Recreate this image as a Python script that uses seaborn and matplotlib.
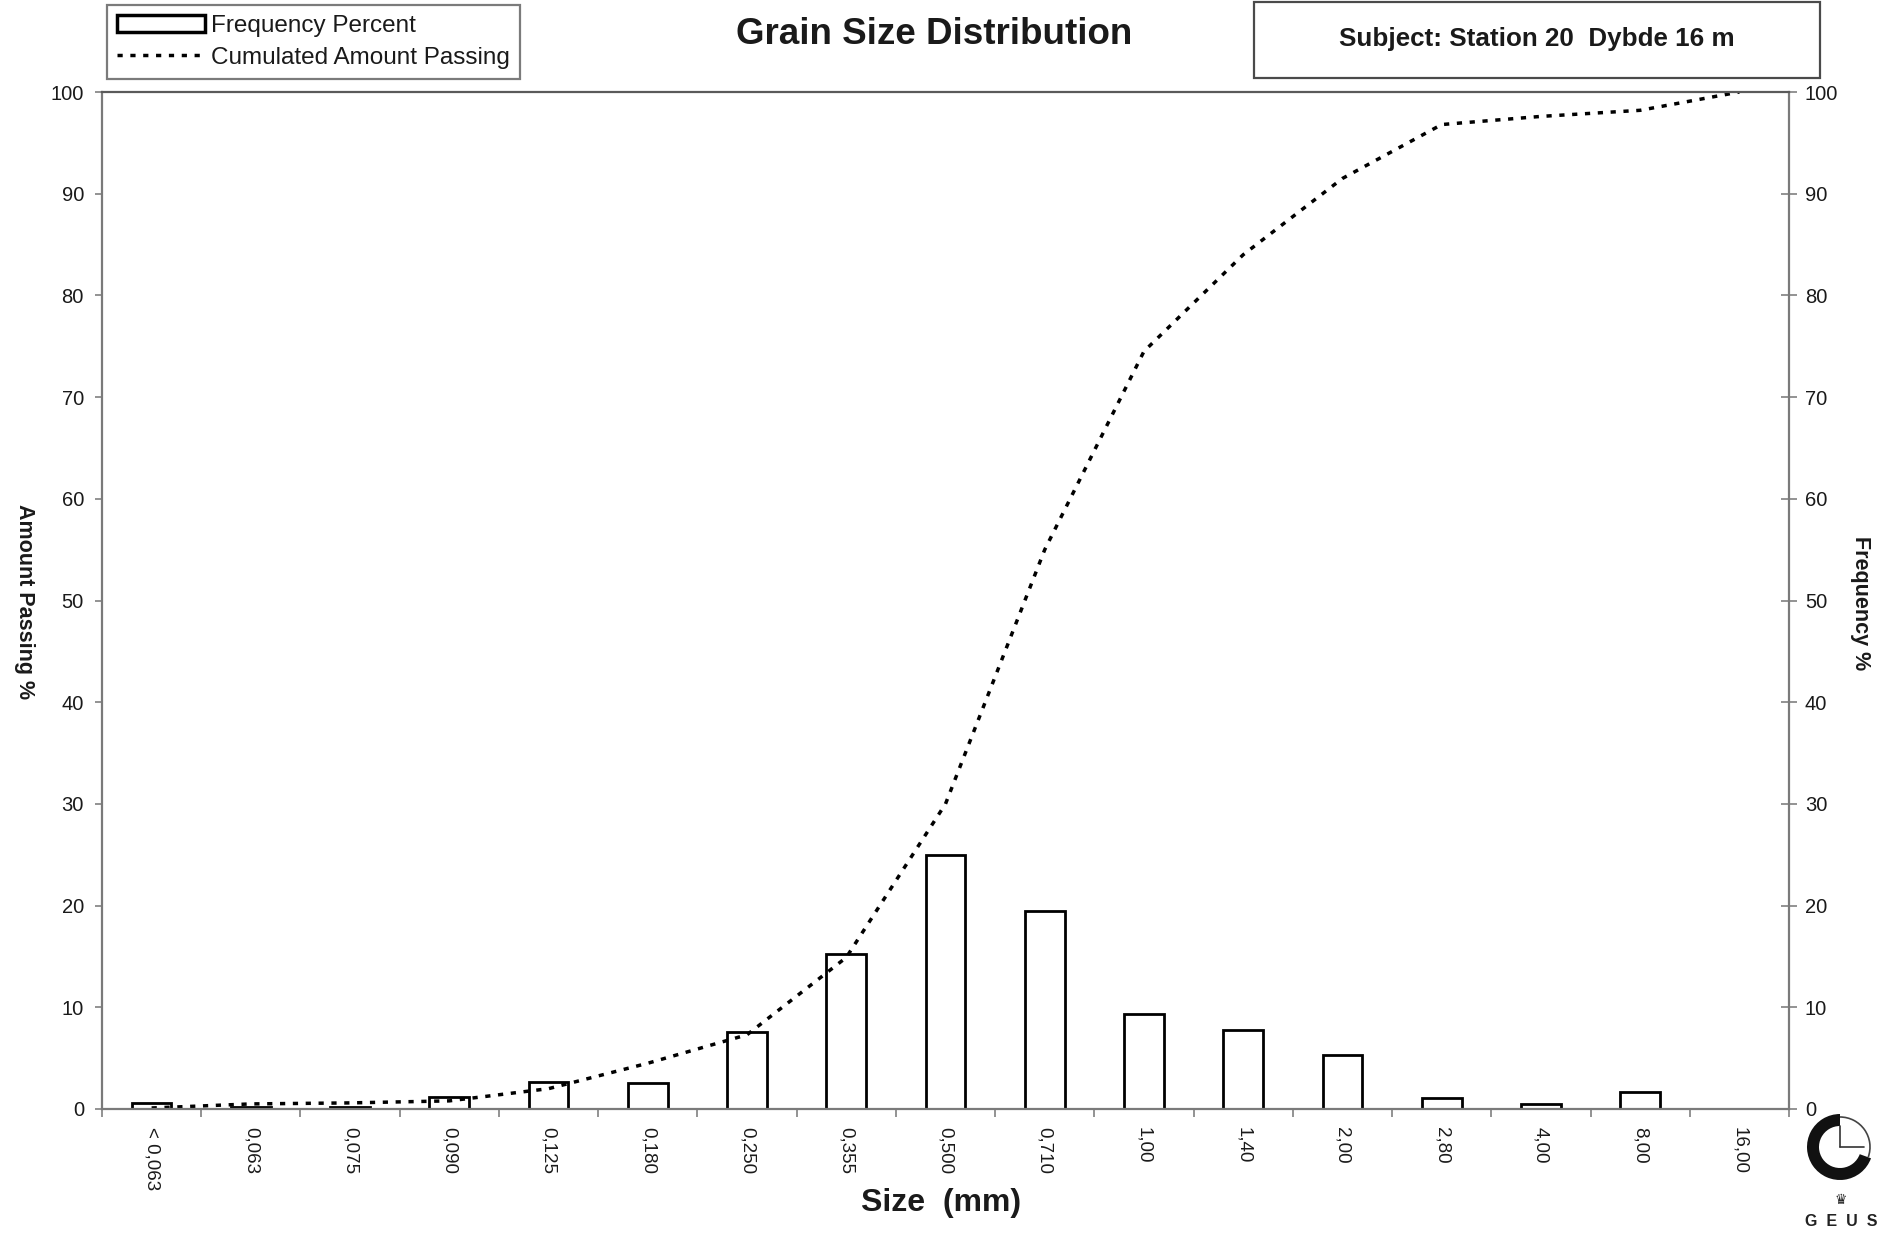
import numpy as np
import matplotlib
matplotlib.use("Agg")
import matplotlib.pyplot as plt
from matplotlib.patches import Patch, Rectangle, Wedge, Arc
from matplotlib.lines import Line2D
import seaborn as sns

# Sieve classes (mm) and measured fractions
size_labels = ["< 0,063", "0,063", "0,075", "0,090", "0,125", "0,180", "0,250",
               "0,355", "0,500", "0,710", "1,00", "1,40", "2,00", "2,80",
               "4,00", "8,00", "16,00"]
frequency_pct = [0.6, 0.15, 0.15, 1.2, 2.7, 2.55, 7.6, 15.2, 25.0, 19.5,
                 9.3, 7.8, 5.3, 1.05, 0.45, 1.7, 0.0]
cumulated_pct = [0.1, 0.5, 0.6, 0.8, 2.0, 4.5, 7.3, 14.9, 30.0, 55.0,
                 74.5, 84.0, 91.5, 96.8, 97.6, 98.2, 100.0]
y_ticks = list(range(0, 101, 10))

sns.set_style("white")
plt.rcParams["font.family"] = ["Liberation Sans", "DejaVu Sans"]
plt.rcParams["text.color"] = "#1a1a1a"

W, H = 1904, 1235
fig = plt.figure(figsize=(W / 100, H / 100), dpi=100)

ax = fig.add_axes([102 / W, 1 - 1109 / H, (1789 - 102) / W, (1109 - 92) / H])
ax2 = ax.twinx()

# Frequency bars on the right-hand axis
sns.barplot(x=size_labels, y=frequency_pct, ax=ax2, color="white",
            edgecolor="black", linewidth=2.0, width=0.4, saturation=1)

# Cumulative curve on the left-hand axis, drawn above the bars
ax.set_zorder(ax2.get_zorder() + 1)
ax.patch.set_visible(False)
dot_style = (0, (1.5, 2.2))
sns.lineplot(x=np.arange(len(size_labels)), y=cumulated_pct, ax=ax,
             color="black", linewidth=2.5, linestyle=dot_style)
for ln in ax.lines:
    ln.set_dash_capstyle("butt")

n = len(size_labels)
for a in (ax, ax2):
    a.set_ylim(0, 100)
    a.set_xlim(-0.5, n - 0.5)
    a.set_xlabel("")
    a.set_ylabel("")

# Category labels centred in each slot, tick marks on slot boundaries
ax.set_xticks(np.arange(n))
ax.set_xticklabels(size_labels, rotation=270, fontsize=13.5)
ax.set_xticks(np.arange(-0.5, n, 1.0), minor=True)
ax.tick_params(axis="x", which="major", length=0, pad=13, colors="#1a1a1a")
ax.tick_params(axis="x", which="minor", length=6, width=1.2, color="#808080",
               direction="out", bottom=True)

ax.set_yticks(y_ticks)
ax.tick_params(axis="y", which="major", length=5, width=1.2, color="#808080",
               labelsize=14.5, labelcolor="#1a1a1a", direction="out", left=True, pad=8)
ax2.set_yticks(y_ticks)
ax2.tick_params(axis="y", which="major", length=11, width=1.2, color="#808080",
                labelsize=14.5, labelcolor="#1a1a1a", direction="inout", right=True, pad=6)

for s in ax2.spines.values():
    s.set_visible(False)
for name in ("left", "right", "bottom", "top"):
    ax.spines[name].set_visible(True)
    ax.spines[name].set_color("#7a7a7a")
    ax.spines[name].set_linewidth(1.6)
ax.spines["top"].set_color("#5a5a5a")

# Axis titles
fig.text(941 / W, 1 - 1203 / H, "Size  (mm)", ha="center", va="center",
         fontsize=23, fontweight="bold")
fig.text(24 / W, 1 - 602 / H, "Amount Passing %", ha="center", va="center",
         rotation=270, fontsize=15.5, fontweight="bold")
fig.text(1860 / W, 1 - 603 / H, "Frequency %", ha="center", va="center",
         rotation=270, fontsize=15.5, fontweight="bold")

# Title
fig.text(934 / W, 1 - 34 / H, "Grain Size Distribution", ha="center", va="center",
         fontsize=26.5, fontweight="bold")

# Subject box
fig.patches.append(Rectangle((1254 / W, 1 - 78 / H), (1820 - 1254) / W, 76 / H,
                             transform=fig.transFigure, facecolor="white",
                             edgecolor="#4a4a4a", linewidth=1.6))
fig.text(1537 / W, 1 - 39 / H, "Subject: Station 20  Dybde 16 m", ha="center",
         va="center", fontsize=18.7, fontweight="bold")

# Legend
handles = [Patch(facecolor="white", edgecolor="black", linewidth=2.5),
           Line2D([0], [0], color="black", linewidth=2.5, linestyle=dot_style,
                  dash_capstyle="butt")]
leg = fig.legend(handles, ["Frequency Percent", "Cumulated Amount Passing"],
                 loc="upper left", bbox_to_anchor=(107 / W, 1 - 5 / H),
                 bbox_transform=fig.transFigure, fontsize=17.5, frameon=True,
                 fancybox=False, borderaxespad=0, borderpad=0.42,
                 handlelength=3.6, handletextpad=0.25, labelspacing=0.4)
leg.get_frame().set_edgecolor("#5a5a5a")
leg.get_frame().set_linewidth(1.6)

# GEUS emblem
cx, cy, r = 1840, 1147, 33
lax = fig.add_axes([(cx - 40) / W, 1 - (cy + 40) / H, 80 / W, 80 / H])
lax.set_xlim(-40, 40)
lax.set_ylim(-40, 40)
lax.set_aspect("equal")
lax.axis("off")
lax.add_patch(Wedge((0, 0), r, 90, 340, width=12, facecolor="#111111", edgecolor="none"))
lax.add_patch(Arc((0, 0), 2 * (r - 3), 2 * (r - 3), theta1=340, theta2=90,
                  color="#444444", linewidth=1.2))
lax.plot([0, 0], [0, r - 12], color="#333333", linewidth=1.2)
lax.plot([0, r - 9], [0, 0], color="#333333", linewidth=1.2)
fig.text(1841 / W, 1 - 1200 / H, "\u265b", ha="center", va="center",
         fontsize=10, family=["DejaVu Sans"], color="#222222")
fig.text(1841 / W, 1 - 1221 / H, "G  E  U  S", ha="center", va="center",
         fontsize=11.5, fontweight="bold", color="#222222")

fig.savefig("out.png", dpi=100, facecolor="white")
